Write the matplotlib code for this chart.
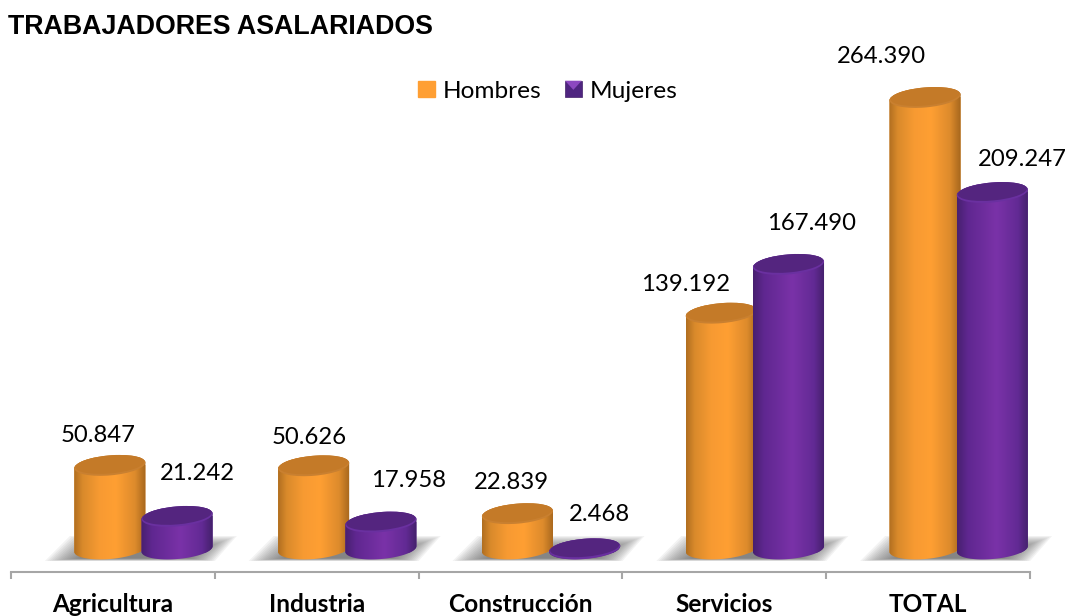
#!/usr/bin/env python

import matplotlib
matplotlib.use('Agg')
import matplotlib.pyplot as plt
import numpy as np
from matplotlib.colors import to_rgb
from matplotlib.legend_handler import HandlerPatch
from matplotlib.patches import Ellipse, Patch, Polygon, Rectangle
from matplotlib.path import Path
from matplotlib.transforms import Affine2D, IdentityTransform

categories = ['Agricultura', 'Industria', 'Construcción', 'Servicios', 'TOTAL']
hombres = [50847, 50626, 22839, 139192, 264390]
mujeres = [21242, 17958, 2468, 167490, 209247]

W, H = 1067, 616
PX_PER_UNIT = 1.723 / 1000
BASE_PX = 553     # image row of value 0
AXIS_PX = 572     # image row of the axis line
BAR_WIDTH = 0.35
BAR_SHIFT = 0.15
TILT = np.radians(5)
ELL_H = 20
FOOT = 4          # the bottom rim sits this many pixels above value 0

# label offsets from the top of each bar, in pixels
hombres_off = [(-12, 30), (-4, 28), (-6, 31), (-36, 29), (-44, 41)]
mujeres_off = [(20, 43), (28, 42), (15, 34), (23, 41), (30, 33)]

plt.rcParams['font.family'] = 'Lato'

fig = plt.figure(figsize=(W / 100, H / 100), dpi=100)
ax = fig.add_axes([11 / W, (H - AXIS_PX) / H, 1019 / W, AXIS_PX / H])
ax.set_xlim(-0.5, 4.5)
ax.set_ylim(-(AXIS_PX - BASE_PX) / PX_PER_UNIT, BASE_PX / PX_PER_UNIT)
ax.set_autoscale_on(False)


def gradient(stops):
    t = np.linspace(0, 1, 256)
    pos = [s[0] for s in stops]
    cols = np.array([to_rgb(s[1]) for s in stops])
    return np.stack([np.interp(t, pos, cols[:, c]) for c in range(3)], axis=1)[None, :, :]


def arc(cx, cy, a, b, t0, t1):
    t = np.linspace(t0, t1, 60)
    x = cx + a * np.cos(t) * np.cos(TILT) - b * np.sin(t) * np.sin(TILT)
    y = cy + a * np.cos(t) * np.sin(TILT) + b * np.sin(t) * np.cos(TILT)
    return np.column_stack([x, y])


def cylinder(x, value, stops, top_col, rim_col, z):
    bar = ax.bar(x, value, BAR_WIDTH, color=stops[-2][1], zorder=z)[0]
    x0, x1 = bar.get_x(), bar.get_x() + bar.get_width()
    (l, b0), (r, t0) = ax.transData.transform([(x0, 0), (x1, value)])
    a, b = (r - l) / 2, ELL_H / 2
    cx = (l + r) / 2
    body = Path(np.vstack([arc(cx, b0 + FOOT, a, b, np.pi, 2 * np.pi),
                           arc(cx, t0, a, b, 0, np.pi)]), closed=False)
    bar.set_clip_path(body, IdentityTransform())
    ymin = -(AXIS_PX - BASE_PX) / PX_PER_UNIT
    img = ax.imshow(gradient(stops), extent=(x0, x1, ymin, value + 8 / PX_PER_UNIT),
                    aspect='auto', interpolation='bilinear', zorder=z + 0.1)
    img.set_clip_path(body, IdentityTransform())
    shift = Affine2D().translate(cx, t0)
    ax.add_patch(Ellipse((0, 0), 2 * a, ELL_H, angle=np.degrees(TILT), color=rim_col,
                         lw=0, transform=shift, zorder=z + 0.2, clip_on=False))
    ax.add_patch(Ellipse((0, 1), 2 * a - 2, ELL_H - 2, angle=np.degrees(TILT), color=top_col,
                         lw=0, transform=shift, zorder=z + 0.3, clip_on=False))
    return cx, t0


class BevelHandler(HandlerPatch):
    # the purple legend key has a lighter bevel on its upper side
    def create_artists(self, legend, orig, xd, yd, width, height, fontsize, trans):
        size = min(width, height)
        x0, y0 = -xd, -yd
        base = Rectangle((x0, y0), size, size, facecolor='#4f2580', edgecolor='#43206a',
                         lw=0.5, transform=trans)
        bevel = Polygon([(x0, y0 + size), (x0 + size, y0 + size), (x0 + size / 2, y0 + size * 0.45)],
                        facecolor='#8c48c0', lw=0, transform=trans)
        return [base, bevel]


orange_stops = [(0, '#b06e20'), (0.12, '#d98a2b'), (0.35, '#f79a32'), (0.58, '#ff9f33'),
                (0.85, '#dd8b2c'), (1, '#a5661d')]
purple_stops = [(0, '#47206f'), (0.15, '#5f2790'), (0.55, '#7a32a8'), (0.85, '#622a94'),
                (1, '#43206a')]

xs = np.arange(len(categories))

# ground shadows
for i in xs:
    cx = ax.transData.transform((i, 0))[0] + 29
    for k in range(16):
        d = k * 1.8
        pts = [(-97 + d * 1.3, 55 + d * 0.1), (73 - d, 55 + d * 0.1),
               (95 - d * 1.3, 80 - d * 0.5), (-72 + d, 80 - d * 0.5)]
        pts = [(cx + p[0], p[1]) for p in pts]
        ax.add_patch(Polygon(pts, closed=True, color='#555555', alpha=0.07, lw=0,
                             transform=IdentityTransform(), zorder=1, clip_on=False))

for i, (h, m) in enumerate(zip(hombres, mujeres)):
    z = 3 + i * 2
    cx, top = cylinder(i + BAR_SHIFT - 0.165, h, orange_stops, '#c47a28', '#c98030', z)
    ax.annotate(f'{h:,}'.replace(',', '.'), (cx, top), xycoords=IdentityTransform(),
                xytext=hombres_off[i], textcoords='offset pixels', ha='center', va='center',
                fontsize=17.2, color='black', zorder=20)
    cx, top = cylinder(i + BAR_SHIFT + 0.165, m, purple_stops, '#54257f', '#6a30a0', z + 1)
    ax.annotate(f'{m:,}'.replace(',', '.'), (cx, top), xycoords=IdentityTransform(),
                xytext=mujeres_off[i], textcoords='offset pixels', ha='center', va='center',
                fontsize=17.2, color='black', zorder=20)

for side in ['top', 'left', 'right']:
    ax.spines[side].set_visible(False)
ax.spines['bottom'].set_color('#a6a6a6')
ax.spines['bottom'].set_linewidth(1.5)
ax.set_yticks([])
ax.set_xticks(np.arange(-0.5, 5, 1))
ax.set_xticklabels([])
ax.tick_params(axis='x', which='major', length=5, width=1.5, color='#a6a6a6')
ax.set_xticks(xs, minor=True)
ax.set_xticklabels(categories, minor=True, fontsize=17.6, fontweight='bold')
ax.tick_params(axis='x', which='minor', length=0, pad=15)
ax.patch.set_visible(False)

key_m = Patch(color='#7030a0', label='Mujeres')
handles = [Patch(color='#ff9f33', label='Hombres'), key_m]
fig.legend(handles=handles, loc='center', bbox_to_anchor=(548 / W, (H - 91) / H), ncol=2,
           frameon=False, fontsize=17.6, handlelength=0.68, handleheight=0.68,
           handletextpad=0.35, columnspacing=0.95, borderpad=0,
           handler_map={key_m: BevelHandler()})

fig.text(8 / W, (H - 27) / H, 'TRABAJADORES ASALARIADOS', family='Liberation Sans',
         fontweight='bold', fontsize=19.3, va='center', ha='left')

fig.savefig('out.png', dpi=100)
